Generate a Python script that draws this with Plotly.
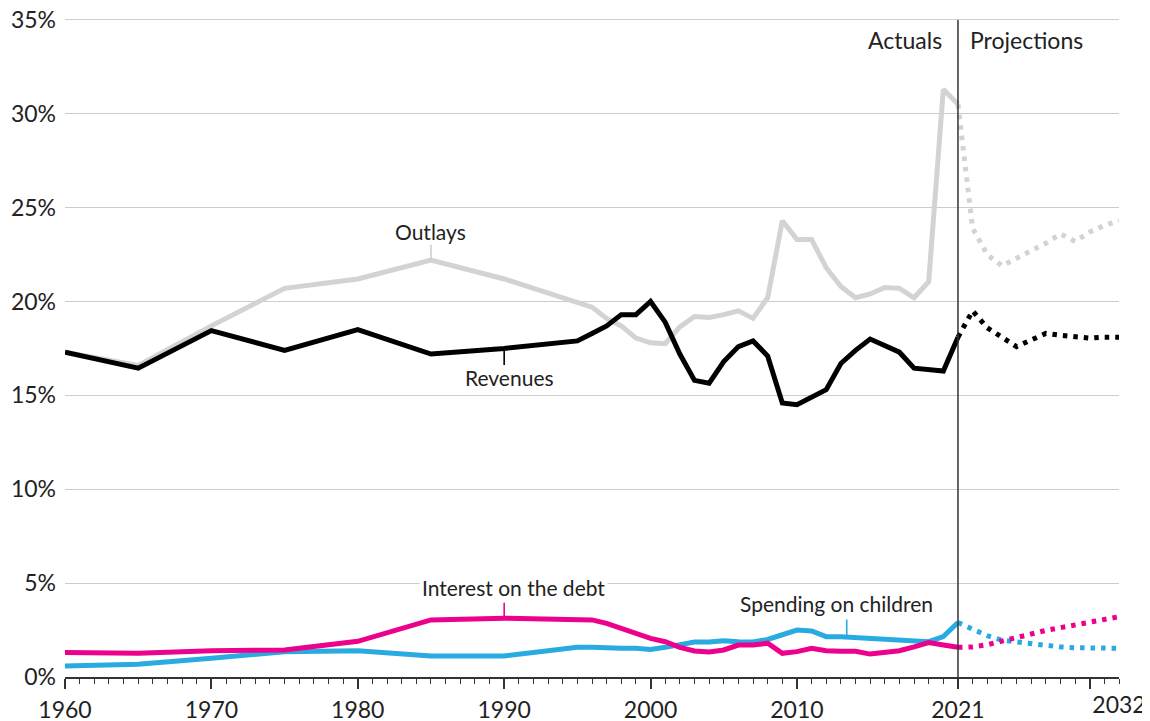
import plotly.graph_objects as go

# ---------------- data (% of GDP) ----------------
hist_years = [1960, 1965, 1970, 1975, 1980, 1985, 1990, 1995, 1996, 1997, 1998, 1999,
              2000, 2001, 2002, 2003, 2004, 2005, 2006, 2007, 2008, 2009, 2010, 2011,
              2012, 2013, 2014, 2015, 2016, 2017, 2018, 2019, 2020, 2021]
proj_years = [2021, 2022, 2023, 2024, 2025, 2026, 2027, 2028, 2029, 2030, 2031, 2032]

outlays_hist = [17.3, 16.6, 18.7, 20.7, 21.2, 22.2, 21.2, 20.0, 19.7, 19.1, 18.7, 18.05,
                17.8, 17.75, 18.65, 19.2, 19.15, 19.3, 19.5, 19.1, 20.2, 24.3, 23.3, 23.3,
                21.8, 20.8, 20.2, 20.4, 20.75, 20.7, 20.2, 21.05, 31.3, 30.5]
outlays_proj = [30.5, 23.9, 22.5, 21.9, 22.3, 22.7, 23.1, 23.6, 23.2, 23.7, 24.05, 24.3]

revenues_hist = [17.3, 16.45, 18.45, 17.4, 18.5, 17.2, 17.5, 17.9, 18.3, 18.7, 19.3, 19.3,
                 20.0, 18.9, 17.2, 15.8, 15.65, 16.8, 17.6, 17.9, 17.1, 14.6, 14.5, 14.9,
                 15.3, 16.7, 17.4, 18.0, 17.65, 17.3, 16.45, 16.4, 16.3, 18.1]
revenues_proj = [18.1, 19.5, 18.6, 18.1, 17.6, 17.95, 18.3, 18.2, 18.1, 18.05, 18.1, 18.1]

interest_hist = [1.3, 1.26, 1.4, 1.44, 1.9, 3.04, 3.13, 3.09, 3.04, 2.86, 2.6, 2.3,
                 2.06, 1.88, 1.58, 1.39, 1.33, 1.44, 1.7, 1.7, 1.8, 1.26, 1.35, 1.53,
                 1.4, 1.37, 1.37, 1.22, 1.28, 1.4, 1.6, 1.83, 1.7, 1.58]
interest_proj = [1.58, 1.6, 1.72, 1.93, 2.11, 2.29, 2.48, 2.63, 2.79, 2.95, 3.11, 3.21]

children_hist = [0.59, 0.68, 1.0, 1.35, 1.4, 1.12, 1.12, 1.58, 1.58, 1.53, 1.53, 1.53,
                 1.47, 1.58, 1.74, 1.86, 1.86, 1.93, 1.88, 1.86, 2.0, 2.24, 2.5, 2.45,
                 2.15, 2.15, 2.1, 2.04, 2.04, 1.97, 1.88, 1.88, 2.15, 2.9]
children_proj = [2.9, 2.58, 2.2, 1.96, 1.86, 1.74, 1.64, 1.6, 1.56, 1.55, 1.53, 1.53]

split_year = 2021
y_top = 35
x_tick_vals = [1960, 1970, 1980, 1990, 2000, 2010, 2021, 2030]
x_tick_text = ["1960", "1970", "1980", "1990", "2000", "2010", "2021", ""]
end_tick_vals = [2032]
end_tick_text = ["2032"]
y_tick_vals = [0, 5, 10, 15, 20, 25, 30, 35]
y_tick_text = ["0%", "5%", "10%", "15%", "20%", "25%", "30%", "35%"]

# series labels: (text, anchor year, anchor value, x shift px, y shift px, leader px, colour)
labels = [
    ("Outlays", 1985, 22.2, 0, 29, -17, "#cfcfcf"),
    ("Revenues", 1990, 17.5, 5, -29, 18, "#000000"),
    ("Interest on the debt", 1990, 3.13, 9, 31, -17, "#ec008c"),
    ("Spending on children", 2013.4, 2.13, -10, 34, -19, "#29abe2"),
]

# ---------------- styles ----------------
FONT = "Lato"
TXT = "#222222"
LW = 5
series = [
    (outlays_hist, outlays_proj, "#d3d3d3"),
    (revenues_hist, revenues_proj, "#000000"),
    (children_hist, children_proj, "#29abe2"),
    (interest_hist, interest_proj, "#ec008c"),
]

fig = go.Figure()
for hist, proj, col in series:
    fig.add_trace(go.Scatter(x=proj_years, y=proj, mode="lines",
                             line=dict(color=col, width=LW, dash="4.5px,6px"),
                             hoverinfo="skip", showlegend=False))
    fig.add_trace(go.Scatter(x=hist_years, y=hist, mode="lines",
                             line=dict(color=col, width=LW),
                             hoverinfo="skip", showlegend=False))

# invisible trace to carry the end-label axis
fig.add_trace(go.Scatter(x=end_tick_vals, y=[None], xaxis="x2", mode="lines",
                         hoverinfo="skip", showlegend=False))

# actuals / projections divider
fig.add_shape(type="line", xref="x", yref="y", x0=split_year, x1=split_year,
              y0=0, y1=y_top, line=dict(color="#333333", width=1.5), layer="above")
fig.add_annotation(x=split_year, y=y_top, xref="x", yref="y", text="Actuals",
                   showarrow=False, xanchor="right", yanchor="middle",
                   xshift=-14, yshift=-20, font=dict(family=FONT, size=23, color=TXT))
fig.add_annotation(x=split_year, y=y_top, xref="x", yref="y", text="Projections",
                   showarrow=False, xanchor="left", yanchor="middle",
                   xshift=10, yshift=-20, font=dict(family=FONT, size=23, color=TXT))

for text, lx, ly, dx, dy, lead, col in labels:
    fig.add_annotation(x=lx, y=ly, xref="x", yref="y", text=text, showarrow=False,
                       xanchor="center", yanchor="middle", xshift=dx, yshift=dy,
                       bgcolor="white", borderpad=2,
                       font=dict(family=FONT, size=21, color=TXT))
    fig.add_annotation(x=lx, y=ly, xref="x", yref="y", text="", showarrow=True,
                       ax=0, ay=lead, arrowhead=0, arrowwidth=1.6, arrowcolor=col,
                       standoff=0, startstandoff=0)

# page body has an 8px margin: the figure is sized/offset to compensate
fig.update_layout(
    width=1142, height=713,
    margin=dict(l=57, r=31, t=10, b=44, autoexpand=False),
    paper_bgcolor="white", plot_bgcolor="white",
    font=dict(family=FONT, size=23, color=TXT),
    xaxis=dict(range=[1960, 2032], tickvals=x_tick_vals, ticktext=x_tick_text,
               ticks="outside", ticklen=10, tickwidth=1.5, tickcolor="#333333",
               minor=dict(dtick=1, tick0=1960, ticks="outside", ticklen=5,
                          tickwidth=1.2, tickcolor="#333333", showgrid=False),
               showline=True, linecolor="#333333", linewidth=1.5,
               showgrid=False, zeroline=False, ticklabelstandoff=2,
               ticklabeloverflow="allow",
               tickfont=dict(family=FONT, size=23, color=TXT)),
    xaxis2=dict(range=[1960, 2032], overlaying="x", anchor="y", side="bottom",
                tickvals=end_tick_vals, ticktext=end_tick_text, ticks="",
                showline=False, showgrid=False, zeroline=False,
                ticklabelstandoff=12, ticklabeloverflow="allow",
                tickfont=dict(family=FONT, size=23, color=TXT)),
    yaxis=dict(range=[0, 35.1], tickvals=y_tick_vals, ticktext=y_tick_text,
               showgrid=True, gridcolor="#cccccc", gridwidth=1,
               zeroline=False, showline=False, ticks="", ticklabelstandoff=8,
               ticklabeloverflow="allow",
               tickfont=dict(family=FONT, size=23, color=TXT)),
)

fig.write_html("out.html")
